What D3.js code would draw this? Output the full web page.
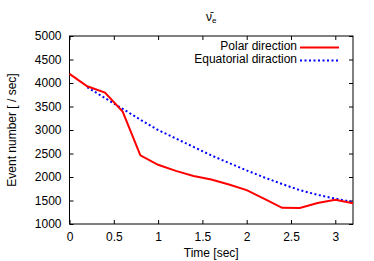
<!DOCTYPE html>
<meta charset="utf-8">
<style>
  body { margin: 0; background: #fff; }
  text { font-family: "Liberation Sans", Arial, sans-serif; fill: #000; }
</style>
<svg width="374" height="261"></svg>
<script src="https://d3js.org/d3.v7.min.js"></script>
<script>
var polarTime = [0, 0.2, 0.4, 0.6, 0.8, 1.0, 1.2, 1.4, 1.6, 1.8, 2.0, 2.2, 2.4, 2.6, 2.8, 3.0, 3.2];
var polarVals = [4195, 3930, 3795, 3390, 2460, 2260, 2130, 2020, 1945, 1840, 1720, 1535, 1345, 1340, 1445, 1515, 1440];

var equTime = [0.2, 0.4, 0.6, 0.8, 1.0, 1.2, 1.4, 1.6, 1.8, 2.0, 2.2, 2.4, 2.6, 2.8, 3.0, 3.2];
var equVals = [3910, 3680, 3450, 3220, 3000, 2820, 2640, 2460, 2300, 2140, 1990, 1850, 1720, 1620, 1540, 1465];

var xTicks = [0, 0.5, 1, 1.5, 2, 2.5, 3];
var yTicks = [1000, 1500, 2000, 2500, 3000, 3500, 4000, 4500, 5000];
var seriesNames = ["Polar direction", "Equatorial diraction"];

var svg = d3.select("svg"),
    pL = 69.5, pR = 353, pT = 36, pB = 224;

var x = d3.scaleLinear().domain([0, 3.2]).range([pL, pR]);
var y = d3.scaleLinear().domain([1000, 5000]).range([pB, pT]);

// frame
svg.append("rect")
    .attr("x", pL).attr("y", pT)
    .attr("width", pR - pL).attr("height", pB - pT)
    .attr("fill", "none").attr("stroke", "#000").attr("stroke-width", 1);

// gnuplot style ticks, pointing inward, mirrored
var tk = 4;
svg.append("g").attr("transform", "translate(0," + pB + ")")
    .call(d3.axisBottom(x).tickValues(xTicks).tickSize(-tk).tickPadding(8).tickFormat(d3.format("")))
    .call(function(g) { g.select(".domain").remove(); });
svg.append("g").attr("transform", "translate(0," + pT + ")")
    .call(d3.axisTop(x).tickValues(xTicks).tickSize(-tk).tickFormat(""))
    .call(function(g) { g.select(".domain").remove(); });
svg.append("g").attr("transform", "translate(" + pL + ",0)")
    .call(d3.axisLeft(y).tickValues(yTicks).tickSize(-tk).tickPadding(8).tickFormat(d3.format("d")))
    .call(function(g) { g.select(".domain").remove(); });
svg.append("g").attr("transform", "translate(" + pR + ",0)")
    .call(d3.axisRight(y).tickValues(yTicks).tickSize(-tk).tickFormat(""))
    .call(function(g) { g.select(".domain").remove(); });

svg.selectAll(".tick text").style("font-size", "12px").style("font-family", "Liberation Sans, Arial, sans-serif").attr("fill", "#000");
svg.selectAll(".tick line").attr("stroke", "#000");

// lines
var line = d3.line().x(function(d) { return x(d[0]); }).y(function(d) { return y(d[1]); });

svg.append("path")
    .datum(equTime.map(function(t, i) { return [t, equVals[i]]; }))
    .attr("d", line)
    .attr("fill", "none").attr("stroke", "#0000ff").attr("stroke-width", 2)
    .attr("stroke-dasharray", "2,2.5");

svg.append("path")
    .datum(polarTime.map(function(t, i) { return [t, polarVals[i]]; }))
    .attr("d", line)
    .attr("fill", "none").attr("stroke", "#ff0000").attr("stroke-width", 2);

// legend
svg.append("text").attr("x", 297).attr("y", 47).text(seriesNames[0])
    .attr("text-anchor", "end").attr("dominant-baseline", "middle").style("font-size", "12px");
svg.append("line").attr("x1", 300).attr("x2", 339).attr("y1", 47.5).attr("y2", 47.5)
    .attr("stroke", "#ff0000").attr("stroke-width", 2);
svg.append("text").attr("x", 297).attr("y", 60).text(seriesNames[1])
    .attr("text-anchor", "end").attr("dominant-baseline", "middle").style("font-size", "12px");
svg.append("line").attr("x1", 300).attr("x2", 339).attr("y1", 60.5).attr("y2", 60.5)
    .attr("stroke", "#0000ff").attr("stroke-width", 2).attr("stroke-dasharray", "2,2.5");

// axis labels
svg.append("text").attr("x", (pL + pR) / 2).attr("y", 254).text("Time [sec]")
    .attr("text-anchor", "middle").attr("dominant-baseline", "middle").style("font-size", "12px");
svg.append("text").attr("transform", "translate(13," + (pT + pB) / 2 + ") rotate(-90)")
    .text("Event number [ / sec]")
    .attr("text-anchor", "middle").attr("dominant-baseline", "middle").style("font-size", "12px");

// title: anti electron neutrino
var title = svg.append("text").attr("x", (pL + pR) / 2).attr("y", 21).attr("text-anchor", "middle").style("font-size", "12px");
title.append("tspan").text("\u03bd\u0304");
title.append("tspan").attr("dy", 2).style("font-size", "8px").text("e");
</script>
